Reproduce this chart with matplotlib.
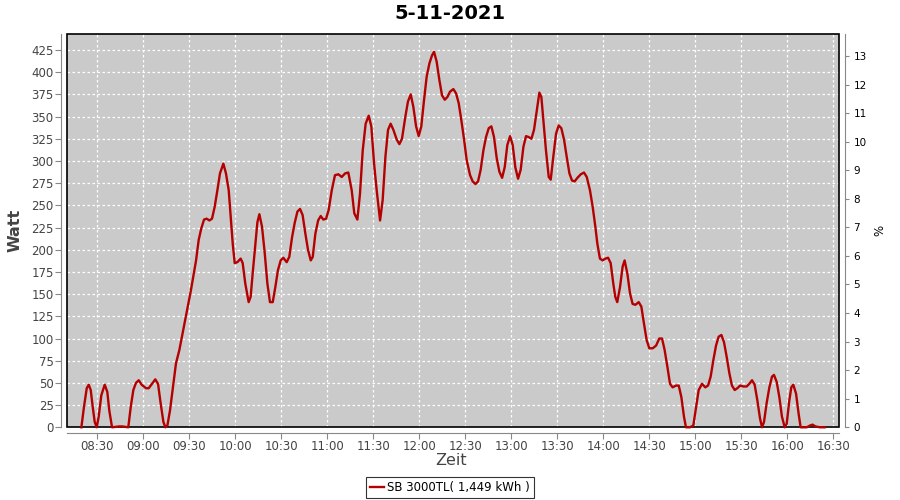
import matplotlib
matplotlib.use("Agg")
import matplotlib.pyplot as plt
from matplotlib.patches import Rectangle

# minutes since midnight
minutes = [
    499.6, 501.3, 503.1, 504.4, 505.7, 507.0, 508.3, 509.6, 510.9, 512.6,
    514.8, 516.5, 517.8, 519.6, 524.4, 526.1, 530.2, 531.8, 533.5, 535.2,
    537.0, 538.9, 541.8, 543.5, 545.7, 547.8, 549.6, 551.3, 553.1, 554.4,
    555.7, 557.4, 559.6, 561.3, 563.5, 565.2, 567.4, 569.1, 570.9, 572.6,
    574.4, 576.1, 577.8, 579.6, 581.3, 583.1, 584.8, 586.5, 588.3, 590.0,
    592.2, 593.9, 595.7, 597.0, 598.3, 599.6, 601.3, 603.5, 604.8, 606.5,
    608.7, 610.0, 611.3, 613.1, 614.4, 615.7, 617.4, 619.2, 620.9, 622.6,
    624.4, 626.1, 627.8, 629.6, 631.3, 633.5, 635.2, 637.0, 638.7, 640.5,
    642.2, 643.9, 645.7, 647.4, 649.2, 650.5, 652.2, 654.0, 655.7, 657.4,
    659.2, 660.9, 662.9, 665.0, 667.2, 669.4, 671.6, 673.7, 675.9, 677.6,
    679.6, 681.3, 683.1, 685.0, 687.0, 688.7, 690.5, 692.2, 694.4, 696.1,
    697.9, 699.6, 701.3, 703.1, 705.3, 707.0, 708.7, 710.9, 712.6, 714.4,
    716.1, 717.9, 719.6, 721.3, 723.1, 724.8, 726.6, 728.3, 729.6, 731.3,
    733.1, 734.8, 736.6, 738.3, 740.0, 742.2, 744.0, 745.7, 747.4, 749.2,
    750.9, 753.1, 754.8, 756.6, 758.3, 760.0, 761.8, 763.5, 765.3, 767.0,
    768.7, 770.5, 772.2, 774.0, 775.7, 777.4, 779.2, 780.9, 782.6, 784.4,
    786.1, 787.9, 789.6, 791.3, 793.1, 794.8, 796.6, 798.3, 799.6, 800.9,
    802.6, 804.4, 805.7, 807.4, 809.2, 810.9, 812.6, 814.4, 816.1, 817.9,
    819.6, 821.3, 823.1, 825.3, 827.4, 829.2, 831.3, 833.1, 834.8, 836.1,
    837.8, 839.6, 841.3, 843.1, 844.8, 846.5, 847.8, 849.1, 850.9, 852.6,
    853.9, 855.7, 857.4, 859.1, 860.9, 863.1, 864.8, 866.5, 868.3, 870.0,
    872.2, 874.4, 876.5, 878.3, 880.0, 881.8, 883.5, 885.2, 887.4, 889.2,
    890.9, 892.6, 893.9, 896.5, 898.7, 900.5, 902.2, 904.4, 906.5, 908.3,
    910.0, 911.8, 913.5, 915.2, 917.0, 918.7, 920.5, 922.2, 923.9, 925.7,
    927.4, 929.2, 931.3, 933.5, 935.2, 937.0, 938.7, 940.5, 942.2, 943.5,
    944.8, 946.5, 948.3, 950.0, 951.3, 953.1, 954.8, 956.5, 958.3, 959.6,
    961.3, 962.6, 963.9, 965.7, 967.4, 968.7, 972.7, 974.8, 976.5, 978.3,
    981.3, 984.4,
]
watts = [
    0, 23, 44, 48, 42, 23, 6, 0, 12, 36,
    48, 40, 19, 0, 1, 1, 0, 23, 42, 50,
    53, 48, 44, 44, 49, 54, 49, 27, 6, 0,
    2, 19, 49, 72, 87, 102, 121, 137, 153, 170,
    188, 211, 224, 234, 235, 233, 235, 248, 267, 286,
    297, 286, 267, 237, 207, 185, 186, 190, 185, 162,
    141, 147, 173, 207, 231, 240, 226, 196, 162, 141,
    141, 158, 177, 188, 191, 186, 192, 214, 230, 243,
    246, 239, 218, 200, 188, 192, 218, 233, 238, 234,
    235, 245, 267, 284, 285, 282, 286, 287, 267, 241,
    234, 263, 312, 342, 351, 339, 297, 267, 233, 256,
    305, 335, 342, 335, 324, 319, 325, 350, 367, 375,
    361, 339, 328, 339, 369, 395, 410, 419, 423, 412,
    391, 374, 369, 372, 378, 381, 376, 365, 346, 324,
    301, 284, 277, 274, 277, 290, 312, 327, 337, 339,
    327, 303, 288, 281, 293, 318, 328, 318, 293, 280,
    290, 316, 328, 327, 325, 335, 357, 377, 372, 346,
    312, 282, 279, 305, 331, 340, 337, 324, 305, 286,
    278, 277, 281, 285, 287, 282, 267, 248, 226, 207,
    190, 188, 190, 191, 185, 162, 147, 141, 158, 181,
    188, 173, 151, 139, 138, 141, 136, 117, 98, 89,
    89, 92, 100, 100, 87, 68, 49, 45, 47, 47,
    34, 12, 0, 0, 2, 23, 42, 49, 45, 47,
    57, 76, 92, 102, 104, 96, 79, 61, 47, 42,
    44, 47, 46, 46, 49, 53, 48, 30, 10, 0,
    6, 27, 45, 57, 59, 51, 34, 12, 0, 4,
    30, 45, 48, 38, 15, 0, 0, 2, 3, 1,
    0, 0,
]

x_ticks = [510 + 30 * i for i in range(17)]
x_labels = ["08:30", "09:00", "09:30", "10:00", "10:30", "11:00", "11:30",
            "12:00", "12:30", "13:00", "13:30", "14:00", "14:30", "15:00",
            "15:30", "16:00", "16:30"]
watt_ticks = list(range(0, 426, 25))
pct_ticks = list(range(0, 14))

fig = plt.figure(figsize=(9, 5), dpi=100)
ax = fig.add_axes([0.0744, 0.1454, 0.8578, 0.786])
ax.set_facecolor("#cacaca")

ax.plot(minutes, watts, color="#b40000", lw=1.7, zorder=6, clip_on=False,
        label="SB 3000TL( 1,449 kWh )")

ax.set_xlim(490.2, 993.7)
ax.set_ylim(0, 442.7)
ax.set_xticks(x_ticks)
ax.set_xticklabels(x_labels)
ax.set_yticks(watt_ticks)
ax.grid(True, color="white", ls=(0, (2, 2)), lw=0.9)
ax.set_axisbelow(True)

for s in ["top", "right"]:
    ax.spines[s].set_visible(False)
for s in ["left", "bottom"]:
    ax.spines[s].set_position(("outward", 4))
    ax.spines[s].set_color("#888888")
ax.tick_params(direction="out", length=4, color="#888888",
               labelcolor="#444444", labelsize=8.5)
ax.tick_params(axis="x", pad=1.5)
ax.tick_params(axis="y", pad=1.5)
ax.add_patch(Rectangle((0, 0), 1, 1, transform=ax.transAxes, fill=False,
                       ec="black", lw=1.2, clip_on=False, zorder=4))

ax.set_ylabel("Watt", fontsize=11.5, color="#444444", weight="bold")
ax.yaxis.set_label_coords(-0.058, 0.5)
ax.set_xlabel("Zeit", fontsize=11.5, color="#444444")
ax.xaxis.set_label_coords(0.497, -0.066)

ax2 = ax.twinx()
ax2.set_ylim(0, 13.76)
ax2.set_yticks(pct_ticks)
for s in ["top", "left", "bottom"]:
    ax2.spines[s].set_visible(False)
ax2.spines["right"].set_position(("outward", 4))
ax2.spines["right"].set_color("#888888")
ax2.tick_params(direction="out", length=3, color="#888888",
                labelcolor="black", labelsize=7.5)
ax2.set_ylabel("%", fontsize=8.5, color="black")
ax2.yaxis.set_label_coords(1.044, 0.5)

fig.text(0.5, 0.973, "5-11-2021", ha="center", va="center",
         fontsize=14, weight="bold")

leg = fig.legend(loc="center", bbox_to_anchor=(0.5, 0.025), fontsize=8.5,
                 frameon=True, fancybox=False, handlelength=1.2,
                 borderpad=0.3, handletextpad=0.3)
leg.get_frame().set_edgecolor("black")
leg.get_frame().set_linewidth(0.8)

fig.savefig("out.png", dpi=100)
